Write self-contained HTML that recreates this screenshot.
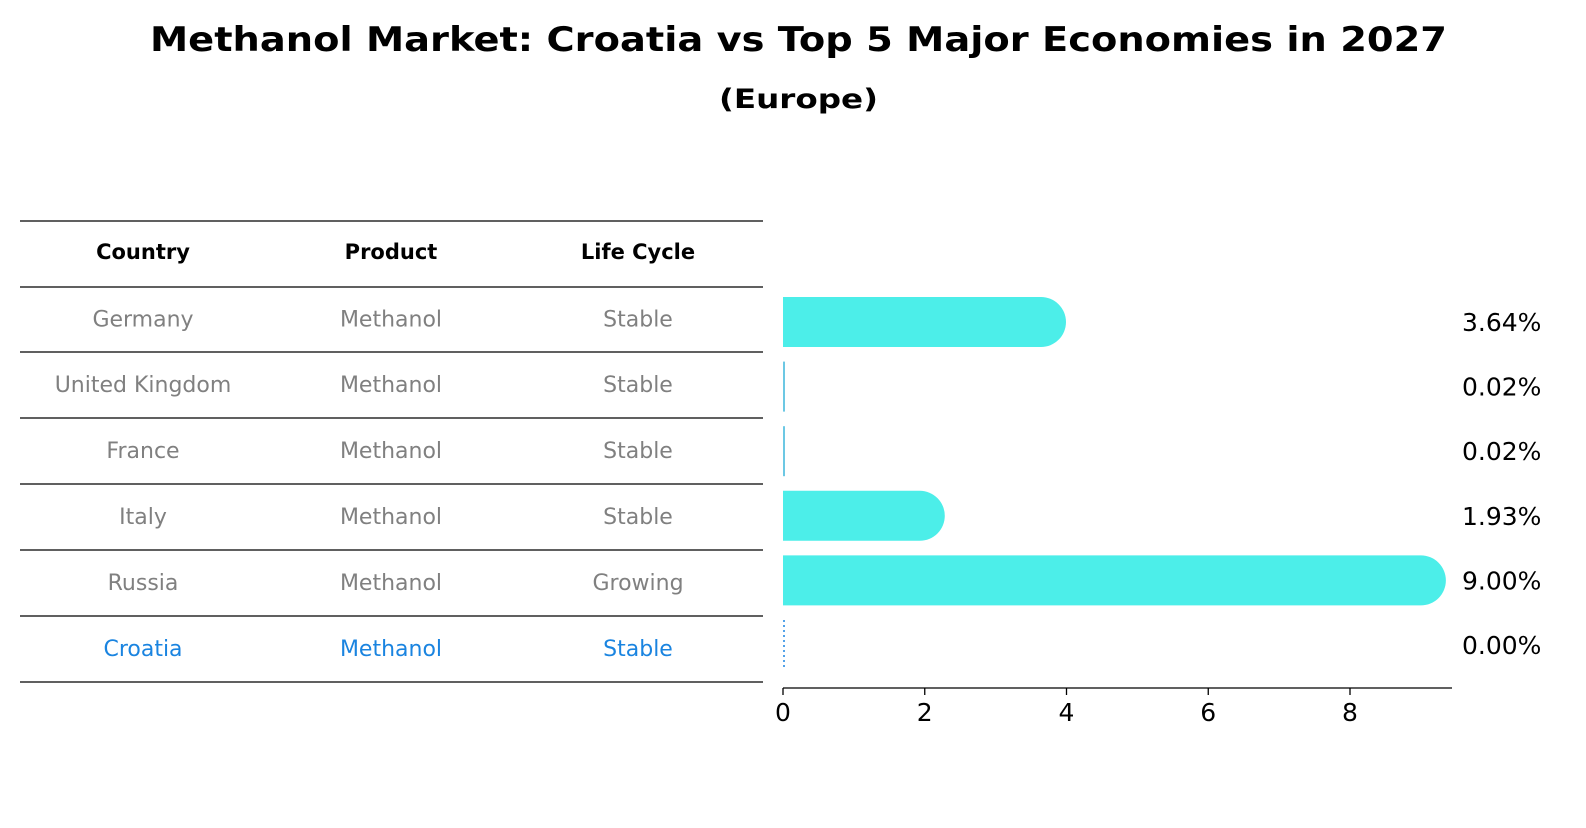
<!DOCTYPE html>
<html><head><meta charset="utf-8"><style>
body{margin:0;background:#fff;font-family:"Liberation Sans","DejaVu Sans",sans-serif}
</style></head><body>
<svg width="1586" height="823" xmlns="http://www.w3.org/2000/svg" font-family="DejaVu Sans, Liberation Sans, sans-serif">
<text x="150" y="51" font-size="34" font-weight="bold" textLength="1297" lengthAdjust="spacingAndGlyphs">Methanol Market: Croatia vs Top 5 Major Economies in 2027</text>
<text x="719" y="108" font-size="27" font-weight="bold" textLength="159" lengthAdjust="spacingAndGlyphs">(Europe)</text>
<g id="table"></g>
<g id="bars"></g>
</svg>
<script>
const countries=["Germany","United Kingdom","France","Italy","Russia","Croatia"];
const products=["Methanol","Methanol","Methanol","Methanol","Methanol","Methanol"];
const lifecycles=["Stable","Stable","Stable","Stable","Growing","Stable"];
const values=[3.64,0.02,0.02,1.93,9.00,0.00];
const xTicks=[0,2,4,6,8];
const NS="http://www.w3.org/2000/svg";
function mk(tag,attrs,parent,text){const e=document.createElementNS(NS,tag);for(const k in attrs)e.setAttribute(k,attrs[k]);if(text!==undefined)e.textContent=text;parent.appendChild(e);return e;}
const tbl=document.getElementById('table');
const lineYs=[221,287,352,418,484,550,616,682];
lineYs.forEach(y=>{const l=mk('line',{x1:20,x2:763,y1:y,y2:y,stroke:'#000','stroke-width':1.2},tbl);

});
const colX=[143,391,638];
["Country","Product","Life Cycle"].forEach((h,i)=>{const t=mk('text',{x:colX[i],y:259,'text-anchor':'middle','font-size':21,'font-weight':'bold'},tbl,h);

});
const rowY=i=>(lineYs[i+1]+lineYs[i+2])/2+7;
countries.forEach((c,i)=>{const col=i===5?'#1a84e0':'#808080';[c,products[i],lifecycles[i]].forEach((v,j)=>{const t=mk('text',{x:colX[j],y:rowY(i),'text-anchor':'middle','font-size':22,fill:col},tbl,v);

});});
const g=document.getElementById('bars');
const x0=783,scale=567/8;
const xs=v=>x0+v*scale;
const yc=i=>322+i*64.6;
const h=50;
values.forEach((v,i)=>{
 const y=yc(i);
 if(v>=0.5){
  const p=mk('path',{d:`M${x0},${y-h/2} H${xs(v)} A${h/2},${h/2} 0 0 1 ${xs(v)},${y+h/2} H${x0} Z`,fill:'#4ceee9'},g);
  
  
 } else if(i===5){
  const l=mk('line',{x1:xs(v)+1,x2:xs(v)+1,y1:y-25,y2:y+25,stroke:'#1a84e0','stroke-width':1.5,'stroke-dasharray':'2,3'},g);
  
  
 } else {
  const r=mk('rect',{x:x0,y:y-25,width:Math.max(2,xs(v)-x0),height:50,fill:'#6cc8e4'},g);
  
  
 }
 const t=mk('text',{x:1462,y:y+9,'font-size':25},g,v.toFixed(2)+'%');
 
 
});
const ax=mk('line',{x1:x0,x2:1452,y1:688,y2:688,stroke:'#000','stroke-width':1.3},g);


xTicks.forEach(v=>{const tk=mk('line',{x1:xs(v),x2:xs(v),y1:688,y2:695,stroke:'#000','stroke-width':1.3},g);


const t=mk('text',{x:xs(v),y:721,'text-anchor':'middle','font-size':25},g,String(v));

});
</script>
</body></html>
